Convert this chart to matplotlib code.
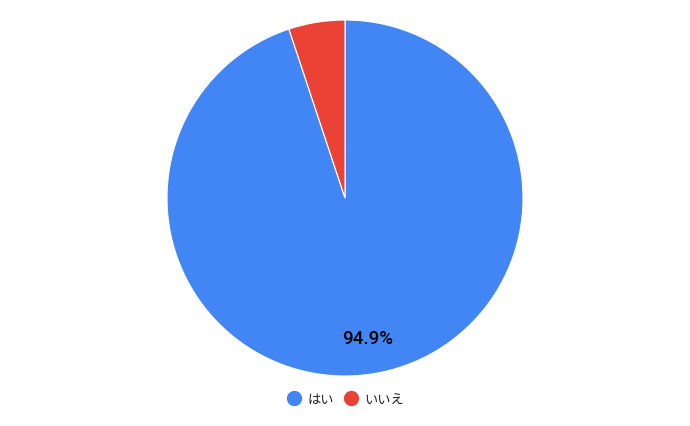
import matplotlib
matplotlib.use("Agg")
import matplotlib.pyplot as plt
from matplotlib.lines import Line2D

labels = ["はい", "いいえ"]
values = [94.9, 5.1]
colors = ["#4285F4", "#EA4335"]

plt.rcParams['font.family'] = ['Noto Sans CJK JP', 'DejaVu Sans']

W, H = 690, 427
fig = plt.figure(figsize=(W/100, H/100), dpi=100)
cx, cy, r = 345, 199, 178
ax = fig.add_axes([(cx - r)/W, (H - cy - r)/H, 2*r/W, 2*r/H])

def fmt(p):
    return f"{p:.1f}%" if p > 10 else ""

wedges, texts, autotexts = ax.pie(values, colors=colors, startangle=90, counterclock=False,
                                  autopct=fmt, pctdistance=0.785,
                                  wedgeprops=dict(edgecolor="white", linewidth=0.8),
                                  textprops=dict(fontsize=13.5, color="black", fontweight="medium",
                                                 family=['Roboto', 'DejaVu Sans']))
for t in autotexts:
    x, y = t.get_position()
    t.set_position((x, y - 0.012))
ax.set_xlim(-1, 1)
ax.set_ylim(-1, 1)
ax.set_aspect("equal")
ax.axis("off")

handles = [Line2D([0], [0], marker='o', linestyle='', markersize=10, markerfacecolor=c, markeredgecolor=c)
           for c in colors]
fig.legend(handles, labels, loc="center", bbox_to_anchor=(0.5 + 1/W, 1 - 400/H), ncol=2, frameon=False,
           fontsize=9.5, handletextpad=0.5, columnspacing=0.8, handlelength=1.0,
           labelcolor="#222222")

fig.savefig("out.png", dpi=100)
